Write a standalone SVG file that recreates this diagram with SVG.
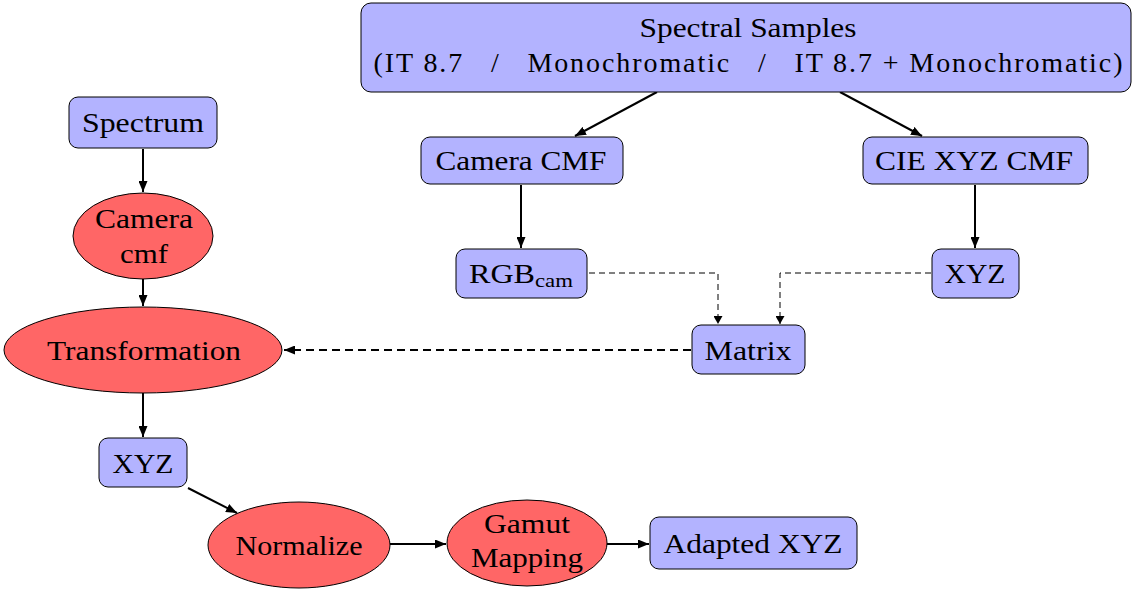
<svg xmlns="http://www.w3.org/2000/svg" width="1132" height="590" viewBox="0 0 1132 590">
<style>
.box{fill:#b3b3ff;stroke:#000;stroke-width:1}
.ell{fill:#ff6666;stroke:#000;stroke-width:1}
.t{font-size:28px;fill:#000;text-anchor:middle}
.sub{font-size:19px;text-anchor:start}
.c{fill:none;stroke:#000;stroke-width:2}
.d{fill:none;stroke:#000;stroke-width:1;stroke-dasharray:6,4}
.dt{fill:none;stroke:#000;stroke-width:2;stroke-dasharray:8,5}
</style>
<defs>
<marker id="ah" markerWidth="11" markerHeight="9" refX="11" refY="4.5" orient="auto" markerUnits="userSpaceOnUse">
<path d="M0,0 L11,4.5 L0,9 Z" fill="#000"/>
</marker>
<marker id="ahs" markerWidth="8" markerHeight="9" refX="8" refY="4.5" orient="auto" markerUnits="userSpaceOnUse">
<path d="M0,0 L8,4.5 L0,9 Z" fill="#000"/>
</marker>
</defs>
<g id="connectors">
<path class="c" d="M657,92 L575,136" marker-end="url(#ah)"/>
<path class="c" d="M840,92 L922,136" marker-end="url(#ah)"/>
<path class="c" d="M521,185 L521,248" marker-end="url(#ah)"/>
<path class="c" d="M975,185 L975,248" marker-end="url(#ah)"/>
<path class="d" d="M589,273 L718,273 L718,324" marker-end="url(#ahs)"/>
<path class="d" d="M931,273 L780,273 L780,324" marker-end="url(#ahs)"/>
<path class="dt" d="M691,350 L284,350" marker-end="url(#ah)"/>
<path class="c" d="M143,149 L143,192" marker-end="url(#ah)"/>
<path class="c" d="M143,279 L143,306" marker-end="url(#ah)"/>
<path class="c" d="M143,393 L143,437" marker-end="url(#ah)"/>
<path class="c" d="M188,488 L237,513" marker-end="url(#ah)"/>
<path class="c" d="M390,544 L446,544" marker-end="url(#ah)"/>
<path class="c" d="M607,544 L649,544" marker-end="url(#ah)"/>
</g>
<g font-family="Liberation Serif, DejaVu Serif, serif">
<g id="spectral-samples">
<rect class="box" x="361" y="3" width="770" height="89" rx="10"/>
<text class="t" x="748" y="37" textLength="217" lengthAdjust="spacingAndGlyphs">Spectral Samples</text>
<text class="t" x="748" y="72" textLength="749" lengthAdjust="spacing" xml:space="preserve">(IT 8.7   /   Monochromatic   /   IT 8.7 + Monochromatic)</text>
</g>
<g id="camera-cmf-box">
<rect class="box" x="421" y="137" width="202" height="47" rx="9"/>
<text class="t" x="521" y="170" textLength="171" lengthAdjust="spacingAndGlyphs">Camera CMF</text>
</g>
<g id="cie-xyz-cmf">
<rect class="box" x="863" y="137" width="225" height="47" rx="9"/>
<text class="t" x="974" y="170" textLength="198" lengthAdjust="spacingAndGlyphs">CIE XYZ CMF</text>
</g>
<g id="rgb-cam">
<rect class="box" x="456" y="249" width="131" height="49" rx="9"/>
<text class="t" x="502" y="283" textLength="66" lengthAdjust="spacingAndGlyphs">RGB</text>
<text class="t sub" x="535" y="287" textLength="38" lengthAdjust="spacingAndGlyphs">cam</text>
</g>
<g id="xyz-right">
<rect class="box" x="932" y="249" width="87" height="49" rx="9"/>
<text class="t" x="975" y="283" textLength="61" lengthAdjust="spacingAndGlyphs">XYZ</text>
</g>
<g id="matrix">
<rect class="box" x="692" y="325" width="113" height="49" rx="9"/>
<text class="t" x="748" y="360" textLength="87" lengthAdjust="spacingAndGlyphs">Matrix</text>
</g>
<g id="spectrum">
<rect class="box" x="69" y="97" width="148" height="51" rx="9"/>
<text class="t" x="143" y="132" textLength="122" lengthAdjust="spacingAndGlyphs">Spectrum</text>
</g>
<g id="camera-cmf-ellipse">
<ellipse class="ell" cx="143" cy="236" rx="70" ry="43"/>
<text class="t" x="144" y="228" textLength="98" lengthAdjust="spacingAndGlyphs">Camera</text>
<text class="t" x="144" y="263" textLength="48" lengthAdjust="spacingAndGlyphs">cmf</text>
</g>
<g id="transformation">
<ellipse class="ell" cx="143" cy="350" rx="139" ry="43"/>
<text class="t" x="144" y="360" textLength="194" lengthAdjust="spacingAndGlyphs">Transformation</text>
</g>
<g id="xyz-left">
<rect class="box" x="99" y="438" width="88" height="49" rx="9"/>
<text class="t" x="143" y="473" textLength="61" lengthAdjust="spacingAndGlyphs">XYZ</text>
</g>
<g id="normalize">
<ellipse class="ell" cx="299" cy="545" rx="91" ry="43"/>
<text class="t" x="299" y="555" textLength="127" lengthAdjust="spacingAndGlyphs">Normalize</text>
</g>
<g id="gamut-mapping">
<ellipse class="ell" cx="527" cy="543" rx="80" ry="43"/>
<text class="t" x="527" y="533" textLength="86" lengthAdjust="spacingAndGlyphs">Gamut</text>
<text class="t" x="527" y="567" textLength="112" lengthAdjust="spacingAndGlyphs">Mapping</text>
</g>
<g id="adapted-xyz">
<rect class="box" x="650" y="517" width="207" height="52" rx="9"/>
<text class="t" x="753" y="553" textLength="179" lengthAdjust="spacingAndGlyphs">Adapted XYZ</text>
</g>
</g>
</svg>
